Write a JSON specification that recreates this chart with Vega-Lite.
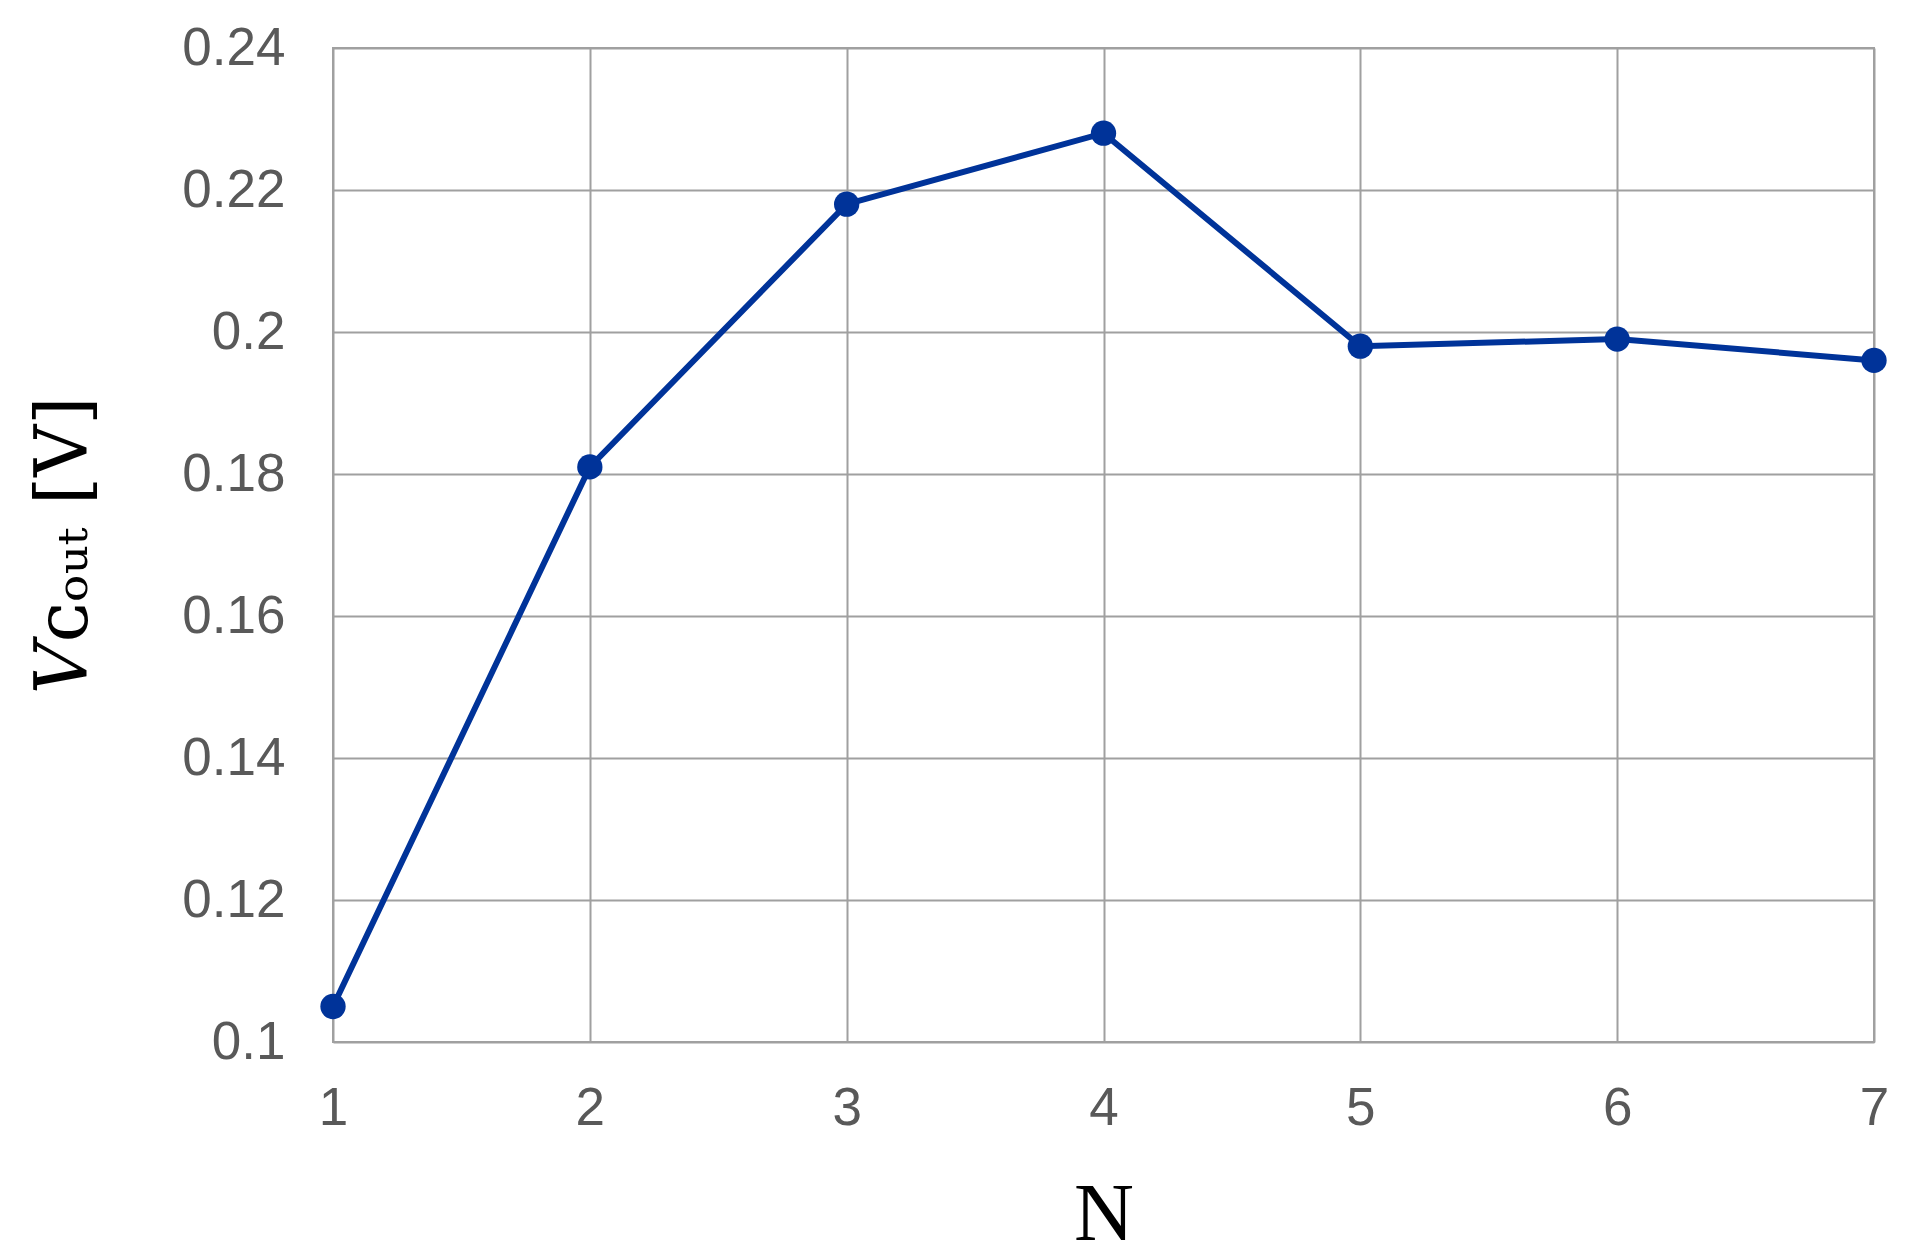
{
  "$schema": "https://vega.github.io/schema/vega-lite/v6.json",
  "autosize": "none",
  "width": 1541,
  "height": 994,
  "padding": {"left": 333, "top": 48, "right": 34, "bottom": 217},
  "background": "white",
  "config": {
    "view": {"stroke": "#a0a0a0", "strokeWidth": 2},
    "axis": {"gridColor": "#a0a0a0", "gridWidth": 2, "gridOpacity": 1, "domain": false, "ticks": false}
  },
  "data": {
    "values": [
      {"N": 1, "V": 0.105},
      {"N": 2, "V": 0.181},
      {"N": 3, "V": 0.218},
      {"N": 4, "V": 0.228},
      {"N": 5, "V": 0.198},
      {"N": 6, "V": 0.199},
      {"N": 7, "V": 0.196}
    ]
  },
  "encoding": {
    "x": {
      "field": "N", "type": "quantitative",
      "scale": {"domain": [1, 7], "nice": false, "zero": false},
      "axis": {
        "values": [1, 2, 3, 4, 5, 6, 7], "format": "d",
        "title": "N", "titleFont": "Liberation Serif", "titleFontSize": 83, "titleFontWeight": "normal",
        "titleColor": "#000000", "titlePadding": 38,
        "labelFont": "Liberation Sans", "labelFontSize": 53, "labelColor": "#595959", "labelPadding": 40,
        "labelFlush": false
      }
    },
    "y": {
      "field": "V", "type": "quantitative",
      "scale": {"domain": [0.1, 0.24], "nice": false, "zero": false},
      "axis": {
        "values": [0.1, 0.12, 0.14, 0.16, 0.18, 0.2, 0.22, 0.24],
        "labelExpr": "datum.value == 0.1 ? '0.1' : datum.value == 0.2 ? '0.2' : format(datum.value, '.2f')",
        "title": "𝑉ᴄₒᵤₜ [V]", "titleFont": "DejaVu Serif", "titleFontSize": 72, "titleFontWeight": "normal",
        "titleColor": "#000000", "titlePadding": 80,
        "labelFont": "Liberation Sans", "labelFontSize": 53, "labelColor": "#595959", "labelPadding": 48,
        "labelFlush": false
      }
    }
  },
  "layer": [
    {"mark": {"type": "line", "color": "#003399", "strokeWidth": 6, "clip": false}},
    {"mark": {"type": "point", "filled": true, "color": "#003399", "opacity": 1, "size": 640, "clip": false}}
  ]
}
